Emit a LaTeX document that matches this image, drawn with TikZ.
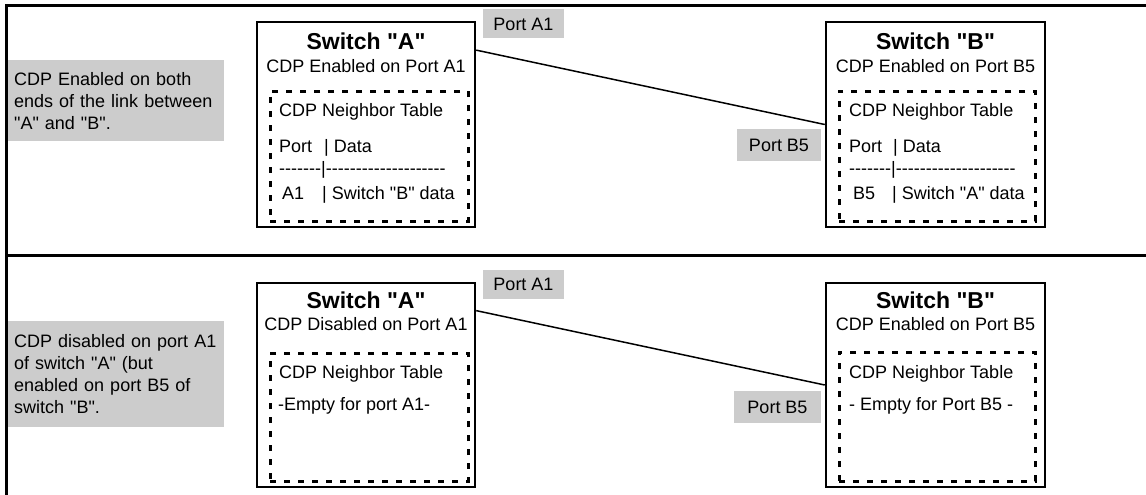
\documentclass[tikz,border=0pt]{standalone}
\usepackage{fontspec}
\setmainfont{Liberation Sans}
\newfontfamily\swfont{Liberation Sans}
\usepackage{tikz}

\definecolor{labelgrey}{RGB}{204,204,204}

\begin{document}
\begin{tikzpicture}[x=1pt, y=-1pt,
  txt/.style={font=\swfont\fontsize{18}{22}\selectfont, inner sep=0pt, anchor=base west},
  subtxt/.style={font=\swfont\fontsize{18}{22}\selectfont, inner sep=0pt, anchor=base},
  swtitle/.style={font=\swfont\fontsize{23}{26}\selectfont\bfseries, inner sep=0pt, anchor=base},
  switchbox/.style={draw, line width=2.5pt, minimum width=218, minimum height=205, inner sep=0pt},
  nbtable/.style={draw, line width=3pt, dash pattern=on 6pt off 8pt, minimum width=198, minimum height=130, inner sep=0pt},
  portlabel/.style={fill=labelgrey, font=\swfont\fontsize{18}{22}\selectfont, inner sep=0pt, minimum height=29},
  note/.style={fill=labelgrey, font=\swfont\fontsize{18}{22}\selectfont, align=left, text width=212, inner xsep=2, inner ysep=0pt, anchor=north west},
  link/.style={line width=1.5pt}]
 \useasboundingbox (0,0) rectangle (1146,495);
 \draw[line width=3pt] (6.5,495) -- (6.5,5.5) -- (1146,5.5);
 \draw[line width=3pt] (6.5,255) -- (1146,255);

 \node[note, minimum height=81] (noteTop) at (8,60) {\hspace*{4pt}CDP Enabled on both\\\hspace*{4pt}ends of the link between\\\hspace*{4pt}"A" and "B".};
 \node[switchbox] (swA) at (366,124.5) {};
 \node[nbtable] (tabA) at (369,156) {};
 \node[swtitle] (titleA) at (366,50) {Switch "A"};
 \node[subtxt] (subA) at (366,73) {CDP Enabled on Port A1};
 \node[txt] (nbA) at (279,117) {CDP Neighbor Table};
 \node[txt] (hdrA) at (279,152) {Port};
 \node[txt] (hdrAd) at (324,152) {| Data};
 \node[txt] (sepA) at (279,174) {-{}-{}-{}-{}-{}-{}-|-{}-{}-{}-{}-{}-{}-{}-{}-{}-{}-{}-{}-{}-{}-{}-{}-{}-{}-{}-};
 \node[txt] (rowA) at (282,199) {A1};
 \node[txt] (rowAd) at (322,199) {| Switch "B" data};
 \node[portlabel, minimum width=81] (portA1) at (523.5,24) {Port A1};

 \node[switchbox, minimum width=219] (swB) at (935.5,124.5) {};
 \node[nbtable, minimum width=196] (tabB) at (937,156) {};
 \node[swtitle] (titleB) at (935.5,50) {Switch "B"};
 \node[subtxt] (subB) at (935.5,73) {CDP Enabled on Port B5};
 \node[txt] (nbB) at (849,117) {CDP Neighbor Table};
 \node[txt] (hdrB) at (849,152) {Port};
 \node[txt] (hdrBd) at (893,152) {| Data};
 \node[txt] (sepB) at (849,174) {-{}-{}-{}-{}-{}-{}-|-{}-{}-{}-{}-{}-{}-{}-{}-{}-{}-{}-{}-{}-{}-{}-{}-{}-{}-{}-};
 \node[txt] (rowB) at (853,199) {B5};
 \node[txt] (rowBd) at (892,199) {| Switch "A" data};
 \node[portlabel, minimum width=84, minimum height=32] (portB5) at (779,145) {Port B5};

 \draw[link] (swA.34) -- (swB.west);

 \node[note, minimum height=106] (noteBot) at (8,321) {\hspace*{4pt}CDP disabled on port A1\\\hspace*{4pt}of switch "A" (but\\\hspace*{4pt}enabled on port B5 of\\\hspace*{4pt}switch "B".};
 \node[switchbox, minimum height=204] (swA2) at (366,385) {};
 \node[nbtable, minimum height=128] (tabA2) at (369,417) {};
 \node[swtitle] (titleA2) at (366,308) {Switch "A"};
 \node[subtxt] (subA2) at (366,330) {CDP Disabled on Port A1};
 \node[txt] (nbA2) at (279,378) {CDP Neighbor Table};
 \node[txt] (emptyA2) at (278,410) {-Empty for port A1-};
 \node[portlabel, minimum width=81] (portA1b) at (523.5,284) {Port A1};

 \node[switchbox, minimum width=219, minimum height=204] (swB2) at (935.5,385) {};
 \node[nbtable, minimum width=196, minimum height=129] (tabB2) at (937,416.5) {};
 \node[swtitle] (titleB2) at (935.5,308) {Switch "B"};
 \node[subtxt] (subB2) at (935.5,330) {CDP Enabled on Port B5};
 \node[txt] (nbB2) at (849,378) {CDP Neighbor Table};
 \node[txt] (emptyB2) at (849,410) {- Empty for Port B5 -};
 \node[portlabel, minimum width=87, minimum height=32] (portB5b) at (777.5,407) {Port B5};

 \draw[link] (swA2.34) -- (swB2.west);
\end{tikzpicture}
\end{document}
